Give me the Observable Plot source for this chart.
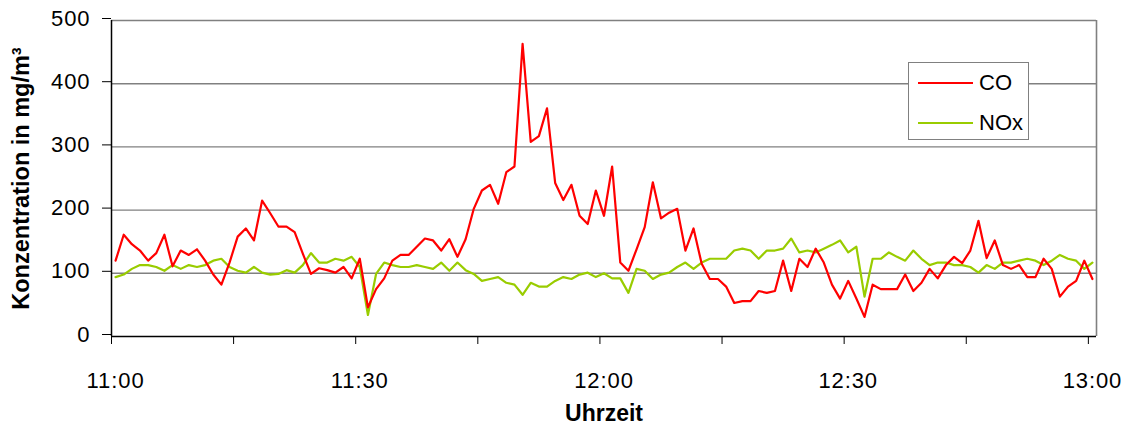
<!DOCTYPE html>
<html>
<head>
<meta charset="utf-8">
<script src="https://cdn.jsdelivr.net/npm/d3@7"></script>
<script src="https://cdn.jsdelivr.net/npm/@observablehq/plot@0.6"></script>
<style>
  html, body { margin: 0; padding: 0; background: #fff; }
  #wrap { position: relative; width: 1135px; height: 433px; font-family: "Liberation Sans", Arial, sans-serif; }
  #legend { position: absolute; left: 908px; top: 62px; width: 121px; height: 78px; border: 1.5px solid #808080; background: #fff; box-sizing: border-box; }
  .li { position: absolute; left: 9px; height: 22px; display: flex; align-items: center; font-size: 22px; color: #000; }
  .sw { width: 55px; height: 0; border-top: 2.2px solid; margin-right: 6px; }
</style>
</head>
<body>
<div id="wrap"></div>
<script>
// Series (one value per minute, 11:00 .. 13:00)
const co = [120,161,146,136,120,132,161,111,136,129,138,120,98,82,117,158,171,152,215,195,
  174,174,165,131,99,108,105,101,110,92,123,46,75,92,120,129,129,142,155,152,
  136,154,126,154,202,231,240,210,260,269,463,308,317,361,243,216,240,191,178,231,
  191,269,117,104,138,173,244,187,196,202,136,171,115,91,91,79,53,56,56,72,
  69,72,120,72,123,110,139,117,82,60,88,60,31,82,75,75,75,98,72,85,
  107,92,113,126,116,136,183,124,152,113,107,113,94,94,123,107,63,79,88,120,91];
const nox = [94,98,107,113,113,110,104,113,107,113,110,113,120,123,110,104,101,110,101,98,
  99,105,101,113,132,117,117,123,120,126,110,34,99,117,113,110,110,113,110,107,
  117,104,117,105,99,88,91,94,85,82,66,85,79,79,88,94,91,98,101,94,
  100,92,92,69,107,104,91,98,101,110,117,107,117,123,123,123,136,139,136,123,
  136,136,139,155,133,136,133,139,145,152,133,142,63,123,123,133,126,120,136,123,
  113,117,117,113,113,110,101,113,107,117,117,120,123,120,113,120,129,123,120,107,117];
const tickLabels = ["11:00","11:30","12:00","12:30","13:00"];
const tickLabelIdx = [0,30,60,90,120];
const yTicks = [0,100,200,300,400,500];
const seriesNames = ["CO","NOx"];
const colors = ["#FF0000","#99CC00"];

const rows = co.map((v,i)=>({i, co: v, nox: nox[i]}));
const boundaryTicks = d3.range(-0.5, 121, 15);

const chart = Plot.plot({
  width: 1135, height: 433,
  marginLeft: 111, marginRight: 39, marginTop: 20, marginBottom: 97,
  style: { fontFamily: "'Liberation Sans', Arial, sans-serif", fontSize: "22px", color: "#000", background: "#fff" },
  x: { domain: [-0.5, 120.5] },
  y: { domain: [0, 500] },
  marks: [
    Plot.ruleY([100,200,300,400,500], { stroke: "#808080", strokeWidth: 1.4 }),
    Plot.ruleX([120.5], { stroke: "#808080", strokeWidth: 1.6 }),
    Plot.line(rows, { x: "i", y: "nox", stroke: colors[1], strokeWidth: 2.2 }),
    Plot.line(rows, { x: "i", y: "co", stroke: colors[0], strokeWidth: 2.2 }),
    Plot.ruleX([-0.5], { stroke: "#000", strokeWidth: 1.5 }),
    Plot.ruleY([0], { stroke: "#000", strokeWidth: 1.5 }),
    Plot.axisY({ ticks: yTicks, tickSize: 9, tickPadding: 12, label: null, stroke: "#000", dy: -2 }),
    Plot.axisX({ ticks: boundaryTicks, tickSize: 8, tickFormat: () => "", label: null, stroke: "#000" }),
    Plot.axisX({ ticks: tickLabelIdx, tickSize: 0, tickPadding: 36, tickFormat: (d) => tickLabels[tickLabelIdx.indexOf(d)], label: null }),
    Plot.text(["Konzentration in mg/m³"], { frameAnchor: "left", textAnchor: "middle", lineAnchor: "middle", rotate: -90, dx: -90, fontWeight: "bold", fontSize: 23.5, fill: "#000" }),
    Plot.text(["Uhrzeit"], { frameAnchor: "bottom", lineAnchor: "middle", dy: 77, fontWeight: "bold", fontSize: 23, fill: "#000" })
  ]
});
d3.select(chart).selectAll("g[aria-label='y-axis tick label'] text, g[aria-label='x-axis tick label'] text")
  .style("letter-spacing", "0.9px");

const wrap = document.getElementById("wrap");
wrap.appendChild(chart);
const legend = document.createElement("div");
legend.id = "legend";
seriesNames.forEach((name, k) => {
  const item = document.createElement("div");
  item.className = "li";
  item.style.top = (k === 0 ? 9 : 49) + "px";
  const sw = document.createElement("div");
  sw.className = "sw";
  sw.style.borderTopColor = colors[k];
  item.appendChild(sw);
  const t = document.createElement("span");
  t.textContent = name;
  item.appendChild(t);
  legend.appendChild(item);
});
wrap.appendChild(legend);
</script>
</body>
</html>
